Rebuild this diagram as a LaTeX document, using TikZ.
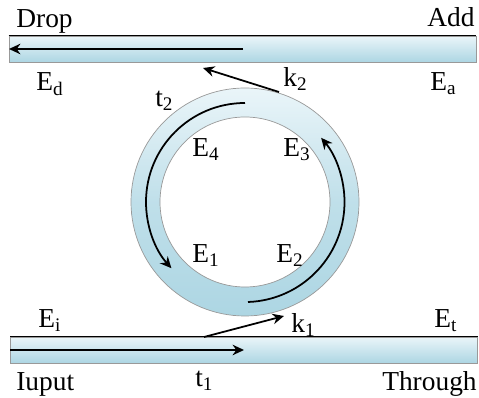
\documentclass[tikz,border=0pt]{standalone}
\usepackage{fontspec}
\setmainfont{Liberation Serif}
\usepackage{tikz}
\usetikzlibrary{arrows.meta}
\definecolor{guidelight}{HTML}{EAF5F9}
\definecolor{guidemid}{HTML}{BBDDE8}
\definecolor{guidedark}{HTML}{ADD6E3}

\begin{document}
\begin{tikzpicture}[
  x=0.02cm, y=0.02cm,
  guide/.style={draw=gray!80, line width=0.4pt, minimum width=9.34cm, minimum height=0.52cm,
             inner sep=0pt, top color=guidelight, middle color=guidemid, bottom color=guidedark},
  lbl/.style={font=\fontsize{15.6}{18}\selectfont, inner sep=0pt},
  arr/.style={-{Stealth[length=6.5pt,width=6pt]}, line width=1pt}
]
  \useasboundingbox (0,0) rectangle (479,398);
  % waveguides
  \node[guide] (dropbar) at (242.5,349) {};
  \node[guide] (inbar) at (244,48) {};
  \draw[line width=0.5pt] (dropbar.north west) -- (dropbar.north east);
  \draw[line width=0.5pt] (inbar.north west) -- (inbar.north east);
  % ring
  \path[draw=gray!80, line width=0.4pt, even odd rule, top color=guidelight, bottom color=guidedark,
        middle color=guidedark!70!guidelight]
    (245,196) circle (114) (245,196) circle (85);
  % free ends of the arrows
  \coordinate (dropstart) at (243,349);
  \coordinate (dropend) at (9,349);
  \coordinate (instart) at (10,48);
  \coordinate (inend) at (244,48);
  \coordinate (upstart) at (279,306);
  \coordinate (upend) at (203,330);
  \coordinate (lowstart) at (204,61);
  \coordinate (lowend) at (284,82);
  \coordinate (leftstart) at (245,295);
  \coordinate (rightstart) at (248,96);
  \draw[arr] (dropstart) -- (dropend);
  \draw[arr] (instart) -- (inend);
  \draw[arr] (upstart) -- (upend);
  \draw[arr] (lowstart) -- (lowend);
  \draw[arr] (leftstart) arc[start angle=90, end angle=222, radius=99];
  \draw[arr] (rightstart) arc[start angle=-88, end angle=40, radius=100];
  % labels
  \node[lbl, anchor=base west] (drop) at (16,370) {Drop};
  \node[lbl, anchor=base east] (add) at (475,371) {Add};
  \node[lbl, anchor=base west] (ed) at (36,307) {E\textsubscript{d}};
  \node[lbl, anchor=base west] (ea) at (430,307) {E\textsubscript{a}};
  \node[lbl, anchor=base west] (k2) at (283,311) {k\textsubscript{2}};
  \node[lbl, anchor=base west] (t2) at (155,291) {t\textsubscript{2}};
  \node[lbl, anchor=base west] (e4) at (192,241) {E\textsubscript{4}};
  \node[lbl, anchor=base west] (e3) at (283,241) {E\textsubscript{3}};
  \node[lbl, anchor=base west] (e1) at (192,135) {E\textsubscript{1}};
  \node[lbl, anchor=base west] (e2) at (276,135) {E\textsubscript{2}};
  \node[lbl, anchor=base west] (ei) at (38,70) {E\textsubscript{i}};
  \node[lbl, anchor=base west] (et) at (434,70) {E\textsubscript{t}};
  \node[lbl, anchor=base west] (k1) at (291,65) {k\textsubscript{1}};
  \node[lbl, anchor=base west] (t1) at (195,11) {t\textsubscript{1}};
  \node[lbl, anchor=base west] (input) at (16,8) {Iuput};
  \node[lbl, anchor=base east] (through) at (477,8) {Through};
\end{tikzpicture}
\end{document}
